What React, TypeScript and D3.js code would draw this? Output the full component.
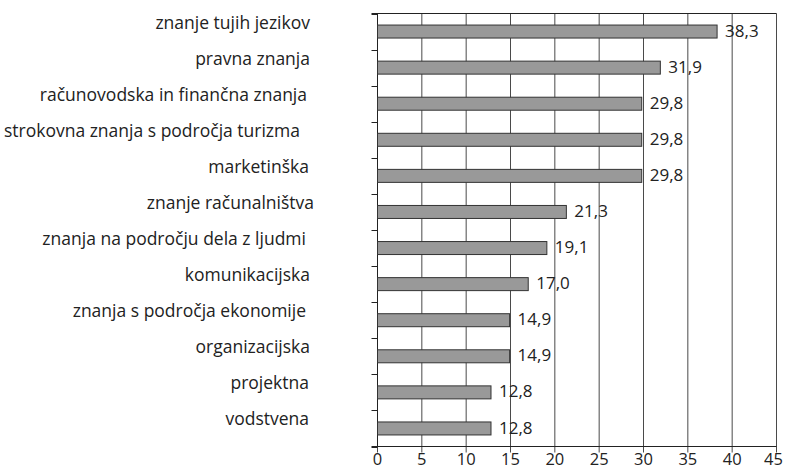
import React from "react"
import * as d3 from "d3"

// categories, top to bottom
const categories = [
  "znanje tujih jezikov",
  "pravna znanja",
  "računovodska in finančna znanja",
  "strokovna znanja s področja turizma",
  "marketinška",
  "znanje računalništva",
  "znanja na področju dela z ljudmi",
  "komunikacijska",
  "znanja s področja ekonomije",
  "organizacijska",
  "projektna",
  "vodstvena",
]

const values = [38.3, 31.9, 29.8, 29.8, 29.8, 21.3, 19.1, 17.0, 14.9, 14.9, 12.8, 12.8]

// right end of each category label
const labelEnds = [310, 310, 307, 300, 309, 314, 306, 310, 306, 310, 309, 309]

const xTicks = [0, 5, 10, 15, 20, 25, 30, 35, 40, 45]

const W = 786
const H = 469
const left = 377.5
const right = 776.5
const top = 13.5
const bottom = 446.5
const font = "'Open Sans', sans-serif"

const App = () => {
  const x = d3.scaleLinear().domain([0, 45]).range([left, right])
  const y = d3.scaleBand<string>().domain(categories).range([top, bottom]).paddingInner(0.64).paddingOuter(0.32)
  const band = d3.scaleBand<string>().domain(categories).range([top, bottom])
  const fmt = (v: number) => v.toFixed(1).replace(".", ",")

  return (
    <svg width={W} height={H} style={{ position: "absolute", left: 0, top: 0, background: "#fff" }}>
      {/* vertical gridlines */}
      {xTicks.map(t => (
        <line key={"g" + t} x1={x(t)} x2={x(t)} y1={top} y2={bottom + 6} stroke="#4a4a4a" strokeWidth={1} />
      ))}
      {/* top border */}
      <line x1={left - 6} x2={right} y1={top} y2={top} stroke="#222" />
      {/* left axis ticks at band edges */}
      {d3.range(categories.length + 1).map(i => {
        const yy = Math.round(top + i * band.step()) + 0.5
        return <line key={"t" + i} x1={left - 6} x2={left} y1={yy} y2={yy} stroke="#222" />
      })}
      <line x1={left} x2={left} y1={top} y2={bottom} stroke="#222" />
      <line x1={left - 6} x2={right} y1={bottom} y2={bottom} stroke="#222" />

      {/* bars */}
      {categories.map((c, i) => (
        <rect
          key={c}
          x={x(0)}
          y={y(c)}
          width={x(values[i]) - x(0)}
          height={y.bandwidth()}
          fill="#999999"
          stroke="#333"
          strokeWidth={1}
        />
      ))}

      {/* value labels */}
      {categories.map((c, i) => (
        <text
          key={"v" + c}
          x={x(values[i]) + 8}
          y={(y(c) as number) + y.bandwidth() / 2}
          dy="0.3em"
          fontFamily={font}
          fontSize={17}
          fill="#222"
        >
          {fmt(values[i])}
        </text>
      ))}

      {/* category labels */}
      {categories.map((c, i) => (
        <text
          key={"l" + c}
          x={labelEnds[i]}
          y={(band(c) as number) + band.bandwidth() / 2 - 3}
          textAnchor="end"
          fontFamily={font}
          fontSize={17.5}
          fill="#222"
        >
          {c}
        </text>
      ))}

      {/* x tick labels */}
      {xTicks.map(t => (
        <text
          key={"x" + t}
          x={t === 45 ? x(t) - 3 : x(t)}
          y={464.5}
          textAnchor="middle"
          fontFamily={font}
          fontSize={16.5}
          fill="#222"
        >
          {t}
        </text>
      ))}
    </svg>
  )
}

export default App
